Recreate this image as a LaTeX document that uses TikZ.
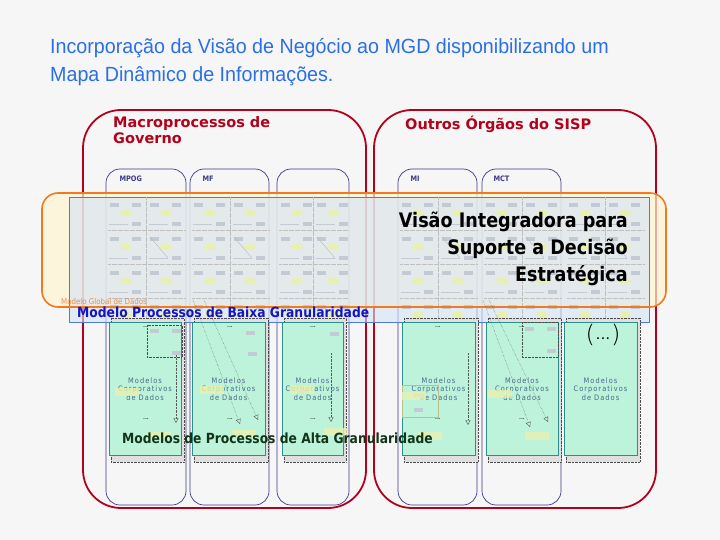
\documentclass[tikz,border=0pt]{standalone}
\usepackage{fontspec}
\setmainfont{DejaVu Sans}
\newfontfamily\titlefont[FakeStretch=0.96]{Liberation Sans}
\newfontfamily\tahoma[FakeStretch=0.88]{DejaVu Sans}
\newfontfamily\verdana{DejaVu Sans}
\newfontfamily\thinfont{DejaVu Sans ExtraLight}
\usetikzlibrary{arrows.meta}

\definecolor{titleblue}{HTML}{2A6FE6}
\definecolor{govred}{HTML}{B3001B}
\definecolor{navyline}{HTML}{3A3A8C}
\definecolor{bandorange}{HTML}{F27A1E}
\definecolor{bandcream}{HTML}{FFF4D0}
\definecolor{bandblue}{HTML}{4D7BD6}
\definecolor{bandfill}{HTML}{D4E4F6}
\definecolor{boxgreen}{HTML}{BDF3DA}
\definecolor{boxedge}{HTML}{2E8C8A}
\definecolor{corpblue}{HTML}{4A6688}
\definecolor{altagreen}{HTML}{12351A}
\definecolor{baixablue}{HTML}{1515C0}
\definecolor{globalorange}{HTML}{E8904A}
\definecolor{cellgrey}{HTML}{C4CAD4}
\definecolor{cellyellow}{HTML}{E8F0B0}

\begin{document}
\begin{tikzpicture}[x=1pt,y=-1pt,
    govbox/.style={draw=govred,line width=1.8pt,rounded corners=38pt},
    orgcol/.style={draw=navyline,line width=0.7pt,rounded corners=14pt},
    corpbox/.style={draw=boxedge,fill=boxgreen,line width=1pt},
    corptext/.style={font=\tahoma\fontsize{7.5}{8.5}\selectfont\addfontfeature{LetterSpace=14},
      text=corpblue,align=center},
    orglabel/.style={font=\tahoma\bfseries\fontsize{7.5}{9}\selectfont,text=navyline,anchor=base west},
    grouptitle/.style={font=\verdana\bfseries\fontsize{14.5}{16}\selectfont,text=govred,anchor=base west,inner sep=0pt},
    flowarrow/.style={densely dotted,draw=gray!70!black,-{Triangle[open,length=5pt,width=5pt]}},
    dots/.style={font=\tahoma\fontsize{7}{8}\selectfont,inner sep=0pt}]

  \fill[gray!7] (0,0) rectangle (720,540);

  % title
  \node[font=\titlefont\fontsize{20.5}{24}\selectfont,text=titleblue,anchor=base west,inner sep=0pt]
    (titleA) at (50,54) {Incorporação da Visão de Negócio ao MGD disponibilizando um};
  \node[font=\titlefont\fontsize{20.5}{24}\selectfont,text=titleblue,anchor=base west,inner sep=0pt]
    (titleB) at (50,82) {Mapa Dinâmico de Informações.};

  % the two groups
  \draw[govbox] (83,110) rectangle (366,508);
  \draw[govbox] (374,110) rectangle (656,508);
  \node[grouptitle] (macroA) at (113,128) {Macroprocessos de};
  \node[grouptitle] (macroB) at (113,144) {Governo};
  \node[grouptitle] (outros) at (405,130) {Outros Órgãos do SISP};

  \foreach \l/\r in {106/186,190/269,277/349,398/477,482/561}{
    \draw[orgcol] (\l,169) rectangle (\r,505);
  }
  \node[orglabel] (mpog) at (116,182) {MPOG};
  \node[orglabel] (mf) at (199,182) {MF};
  \node[orglabel] (mi) at (407,182) {MI};
  \node[orglabel] (mct) at (490,182) {MCT};

  % faixa de baixa granularidade
  \fill[bandcream,opacity=0.7,rounded corners=16pt] (42,193) rectangle (666,307);
  \fill[bandfill,opacity=0.6] (69,197) rectangle (649,322);
  \draw[bandblue,line width=0.8pt] (69,197) rectangle (649,322);

  \begin{scope}
    \clip (69,197) rectangle (649,322);
    \foreach \cx/\hw in {106/40,190/40,277/36,398/40,482/40,565/40}{
      \foreach \ry in {197,231,265,299}{
        \foreach \hx in {0,1}{
          \fill[cellgrey] ({\cx+\hx*\hw+4},{\ry+6}) rectangle ++(9,4);
          \fill[cellgrey] ({\cx+\hx*\hw+26},{\ry+6}) rectangle ++(9,4);
          \fill[cellyellow] ({\cx+\hx*\hw+20},{\ry+16}) ellipse (6 and 3);
          \fill[cellgrey] ({\cx+\hx*\hw+26},{\ry+25}) rectangle ++(9,4);
          \draw[cellgrey,very thin] ({\cx+\hx*\hw+3},{\ry+27}) -- ({\cx+\hx*\hw+22},{\ry+27});
        }
        \draw[gray!50,densely dotted,very thin] ({\cx+2},{\ry+33}) -- ({\cx+2*\hw-1},{\ry+33});
      }
      \draw[gray!50,densely dotted,very thin] ({\cx+\hw},197) -- ({\cx+\hw},322);
      \draw[gray!55,thin] ({\cx+\hw+4},237) -- ({\cx+\hw+22},258);
    }
  \end{scope}
  \draw[bandorange,line width=1.6pt,rounded corners=16pt] (42,193) rectangle (666,307);

  \node[font=\tahoma\fontsize{8}{9}\selectfont,text=globalorange,anchor=base west,inner sep=0pt]
    (global) at (61,304) {Modelo Global de Dados};
  \node[font=\tahoma\bfseries\fontsize{14}{16}\selectfont,text=baixablue,anchor=base west,inner sep=0pt]
    (baixa) at (77,317) {Modelo Processos de Baixa Granularidade};
  \node[font=\tahoma\bfseries\fontsize{20}{27}\selectfont,align=right,anchor=north east,inner sep=0pt]
    (visao) at (628,212) {Visão Integradora para\\Suporte a Decisão\\Estratégica};

  % modelos corporativos
  \foreach \l/\r/\n in {109/181/1,192/265/2,282/343/3,402/475/4,486/558/5,564/637/6}{
    \fill[gray!25] ({\l+2},318) rectangle ({\r+3},462);
    \draw[gray!60!black,densely dotted] ({\l+2},318) rectangle ({\r+3},462);
    \draw[corpbox] (\l,322) rectangle (\r,455);
    \node[corptext] (corp\n) at ({(\l+\r)/2},389) {Modelos\\Corporativos\\de Dados};
  }
  \foreach \x/\n in {146/1,230/2,313/3,438/4,522/5}{
    \node[dots] (etc\n) at (\x,419) {...};
    \node[dots] (top\n) at (\x,327) {...};
  }
  \node[font=\thinfont\fontsize{24}{24}\selectfont,inner sep=0pt] (more) at (603,335)
    {(\raisebox{3pt}{\verdana\bfseries\fontsize{9}{9}\selectfont\,.\,.\,.\,})};

  % restos de diagramas nos modelos
  \draw[gray!60!black,densely dotted] (147,325) rectangle (182,357);
  \draw[gray!60!black,densely dotted] (522,322) rectangle (558,357);
  \draw[cellyellow!80!black,thin] (402,385) rectangle (438,417);
  \foreach \x/\y in {150/329,172/329,172/351,525/327,547/327,547/349,414/393,246/331,248/352,330/332,297/390,414/408}{
    \fill[cellgrey] (\x,\y) rectangle ++(9,4);
  }
  \foreach \x/\y in {115/388,200/386,290/386,402/392,488/390,147/432,232/430,324/428,418/432,525/432}{
    \fill[cellyellow,opacity=0.8] (\x,\y) rectangle ++(24,8);
  }

  % fluxos
  \coordinate (mpogS) at (176,355);  \coordinate (mpogE) at (176,423);
  \coordinate (thirdS) at (331,353); \coordinate (thirdE) at (331,422);
  \coordinate (miS) at (468,353);    \coordinate (miE) at (468,425);
  \coordinate (mfSA) at (193,300);   \coordinate (mfEA) at (240,424);
  \coordinate (mfSB) at (204,300);   \coordinate (mfEB) at (258,420);
  \coordinate (mctSA) at (483,300);  \coordinate (mctEA) at (530,427);
  \coordinate (mctSB) at (489,300);  \coordinate (mctEB) at (548,422);
  \foreach \s/\e in {mpogS/mpogE,thirdS/thirdE,miS/miE,mfSA/mfEA,mfSB/mfEB,mctSA/mctEA,mctSB/mctEB}{
    \draw[flowarrow] (\s) -- (\e);
  }

  \node[font=\tahoma\bfseries\fontsize{14}{16}\selectfont,text=altagreen,anchor=base west,inner sep=0pt]
    (alta) at (122,443) {Modelos de Processos de Alta Granularidade};
\end{tikzpicture}
\end{document}
